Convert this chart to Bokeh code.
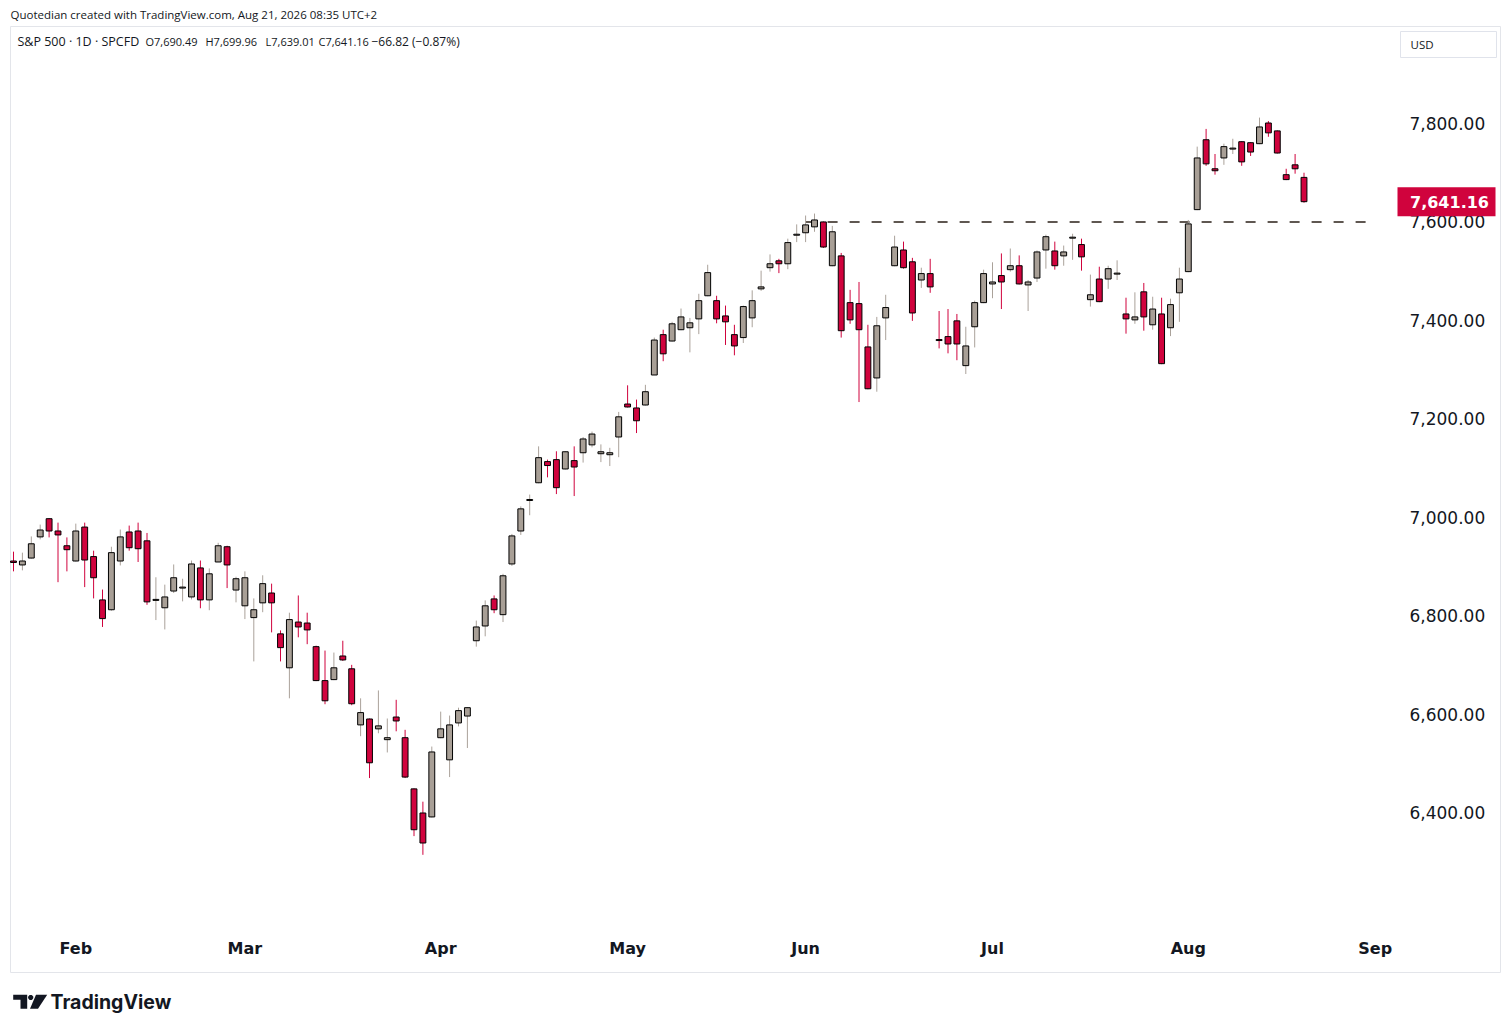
import math
import pandas as pd
from bokeh.plotting import figure
from bokeh.models import ColumnDataSource, Range1d
from bokeh.core.properties import value
from bokeh.embed import file_html
from bokeh.resources import INLINE

# ------------------------------------------------------------------ data
first_day = "2026-01-22"
last_day = "2026-08-20"
market_holidays = ["2026-02-16", "2026-04-03", "2026-05-25", "2026-06-19", "2026-07-03"]

opens = [
    6911, 6903, 6917, 6960, 6997, 6972, 6942, 6911, 6980, 6920,
    6832, 6812, 6911, 6970, 6972, 6952, 6831, 6816, 6850, 6856,
    6838, 6897, 6832, 6909, 6940, 6852, 6820, 6796, 6826, 6846,
    6763, 6694, 6787, 6785, 6737, 6668, 6670, 6718, 6692, 6578,
    6590, 6570, 6548, 6594, 6552, 6448, 6399, 6391, 6552, 6507,
    6582, 6596, 6749, 6779, 6834, 6802, 6905, 6972, 7034, 7070,
    7113, 7117, 7098, 7115, 7131, 7147, 7129, 7127, 7163, 7230,
    7222, 7228, 7289, 7371, 7358, 7381, 7385, 7403, 7450, 7440,
    7409, 7371, 7365, 7405, 7464, 7507, 7521, 7515, 7573, 7578,
    7590, 7600, 7511, 7531, 7436, 7434, 7346, 7283, 7405, 7511,
    7543, 7519, 7482, 7495, 7361, 7367, 7399, 7308, 7387, 7436,
    7474, 7491, 7503, 7511, 7472, 7486, 7543, 7541, 7531, 7567,
    7554, 7442, 7484, 7484, 7494, 7413, 7401, 7458, 7391, 7413,
    7385, 7456, 7499, 7625, 7767, 7708, 7730, 7748, 7763, 7761,
    7759, 7801, 7785, 7696, 7716, 7690.49,
]
highs = [
    6930, 6928, 6961, 6985, 6998, 6989, 6959, 6987, 6989, 6932,
    6853, 6940, 6975, 6983, 6989, 6968, 6878, 6863, 6904, 6875,
    6912, 6912, 6896, 6948, 6942, 6879, 6890, 6835, 6882, 6865,
    6770, 6806, 6841, 6806, 6739, 6729, 6725, 6749, 6700, 6632,
    6591, 6648, 6591, 6629, 6568, 6449, 6422, 6534, 6605, 6597,
    6613, 6614, 6790, 6831, 6841, 6885, 6966, 7022, 7046, 7144,
    7117, 7134, 7134, 7144, 7163, 7174, 7148, 7141, 7214, 7268,
    7239, 7269, 7365, 7381, 7397, 7424, 7405, 7454, 7513, 7450,
    7430, 7391, 7430, 7461, 7501, 7534, 7525, 7566, 7595, 7613,
    7617, 7601, 7592, 7537, 7462, 7478, 7391, 7407, 7452, 7572,
    7560, 7527, 7507, 7525, 7419, 7423, 7413, 7387, 7440, 7503,
    7518, 7536, 7546, 7532, 7482, 7542, 7574, 7560, 7552, 7576,
    7566, 7493, 7509, 7511, 7522, 7446, 7457, 7476, 7448, 7446,
    7444, 7507, 7604, 7753, 7789, 7738, 7759, 7769, 7764, 7762,
    7812, 7805, 7786, 7708, 7738, 7699.96,
]
lows = [
    6890, 6892, 6916, 6955, 6959, 6868, 6890, 6910, 6858, 6835,
    6777, 6810, 6902, 6932, 6909, 6822, 6791, 6772, 6846, 6829,
    6833, 6815, 6811, 6909, 6856, 6827, 6793, 6707, 6807, 6766,
    6707, 6632, 6756, 6742, 6667, 6620, 6669, 6708, 6618, 6555,
    6470, 6561, 6522, 6565, 6470, 6352, 6314, 6390, 6551, 6472,
    6575, 6531, 6737, 6758, 6805, 6787, 6901, 6964, 7004, 7069,
    7081, 7047, 7097, 7043, 7111, 7142, 7112, 7104, 7122, 7223,
    7171, 7227, 7289, 7317, 7357, 7380, 7335, 7372, 7449, 7394,
    7350, 7329, 7354, 7386, 7460, 7499, 7496, 7504, 7559, 7559,
    7580, 7547, 7510, 7365, 7393, 7234, 7260, 7255, 7360, 7510,
    7505, 7399, 7466, 7456, 7343, 7333, 7319, 7291, 7345, 7435,
    7445, 7423, 7499, 7473, 7419, 7478, 7505, 7503, 7511, 7523,
    7501, 7428, 7437, 7464, 7482, 7373, 7393, 7379, 7381, 7311,
    7368, 7397, 7498, 7624, 7714, 7696, 7716, 7738, 7714, 7734,
    7758, 7773, 7739, 7685, 7698, 7639.01,
]
closes = [
    6908, 6911, 6946, 6974, 6972, 6964, 6934, 6972, 6913, 6877,
    6794, 6928, 6960, 6938, 6936, 6828, 6833, 6838, 6877, 6858,
    6905, 6832, 6885, 6942, 6903, 6875, 6877, 6812, 6865, 6826,
    6735, 6792, 6777, 6771, 6668, 6627, 6694, 6710, 6621, 6603,
    6501, 6576, 6552, 6586, 6472, 6365, 6338, 6523, 6570, 6578,
    6607, 6613, 6777, 6820, 6812, 6881, 6962, 7017, 7036, 7121,
    7105, 7060, 7133, 7102, 7159, 7169, 7133, 7131, 7204, 7224,
    7196, 7255, 7360, 7332, 7393, 7407, 7395, 7440, 7497, 7403,
    7397, 7348, 7428, 7440, 7468, 7515, 7515, 7558, 7575, 7594,
    7604, 7549, 7580, 7379, 7401, 7381, 7261, 7389, 7426, 7549,
    7507, 7415, 7495, 7468, 7359, 7352, 7352, 7348, 7436, 7495,
    7478, 7478, 7511, 7474, 7478, 7539, 7570, 7511, 7539, 7569,
    7529, 7452, 7438, 7505, 7496, 7403, 7407, 7407, 7423, 7312,
    7432, 7484, 7596, 7730, 7718, 7704, 7753, 7750, 7722, 7742,
    7793, 7781, 7740, 7686, 7707.98, 7641.16,
]

month_labels = ["Feb", "Mar", "Apr", "May", "Jun", "Jul", "Aug", "Sep"]
month_numbers = [2, 3, 4, 5, 6, 7, 8, 9]
price_ticks = [6400, 6600, 6800, 7000, 7200, 7400, 7600, 7800]

resistance_level = 7600
resistance_from = "2026-06-01"
resistance_to = "2026-08-31"

symbol_text = "S&P 500 · 1D · SPCFD"
credit_text = "Quotedian created with TradingView.com, Aug 21, 2026 08:35 UTC+2"
currency_text = "USD"
brand_text = "TradingView"

# ------------------------------------------------------------------ calendar
hol = set(pd.to_datetime(market_holidays))
dates = [d for d in pd.bdate_range(first_day, last_day) if d not in hol]
future = [d for d in pd.bdate_range("2026-08-21", "2026-09-30") if d not in hol]
calendar = dates + future

month_ticks = [next(i for i, d in enumerate(calendar) if d.month == m) for m in month_numbers]

def cal_index(s):
    t = pd.Timestamp(s)
    return next(i for i, d in enumerate(calendar) if d == t)

n = len(opens)
xs = list(range(n))
up = [c >= o for o, c in zip(opens, closes)]
UP_FILL, DN_FILL = "#a89f96", "#d0033d"
UP_WICK, DN_WICK = "#aaa29a", "#d0033d"

src = ColumnDataSource(dict(
    x=xs, open=opens, high=highs, low=lows, close=closes,
    top=[max(o, c) for o, c in zip(opens, closes)],
    bottom=[min(o, c) for o, c in zip(opens, closes)],
    fill=[UP_FILL if u else DN_FILL for u in up],
    wick=[UP_WICK if u else DN_WICK for u in up],
))

# ------------------------------------------------------------------ layout helpers
# page-pixel -> data helpers (used only to place decorations / labels)
PX_X0, PX_STEP = 13.0, 8.9            # bar 0 centre, bar spacing
PX_Y_TOP_TICK, PX_PER_PT = 123.0, 689.0 / 1400.0

def xd(px):
    return (px - PX_X0) / PX_STEP

def yd(py):
    return 7800 - (py - PX_Y_TOP_TICK) / PX_PER_PT

W, H = 1510, 1032
FONT = "DejaVu Sans"
UI_FONT = "Open Sans"
TXT = "#131722"

p = figure(width=W, height=H,
           x_range=Range1d(xd(0), xd(W)),
           y_range=Range1d(yd(H), yd(0)),
           x_axis_location=None, y_axis_location=None,
           output_backend="svg", toolbar_location=None, min_border=0)
p.background_fill_color = "white"
p.border_fill_color = "white"
p.outline_line_color = None
p.grid.visible = False

# chart frame
p.quad(left=[xd(10)], right=[xd(1500)], top=[yd(26)], bottom=[yd(972)],
       fill_alpha=0, line_color="#e3e5ea", line_width=1)

# resistance line
p.segment(x0=[cal_index(resistance_from)], x1=[cal_index(resistance_to)],
          y0=[resistance_level], y1=[resistance_level],
          line_color="#5f5751", line_width=2, line_dash="10 12")

# candles
p.segment(x0="x", y0="low", x1="x", y1="high", line_color="wick", line_width=1, source=src)
p.vbar(x="x", width=0.66, top="top", bottom="bottom", fill_color="fill",
       line_color="#000000", line_width=1, source=src)

# price scale labels
p.text(x=[xd(1409)] * len(price_ticks), y=price_ticks,
       text=[f"{v:,.2f}" for v in price_ticks],
       text_font=value(FONT), text_font_size="17px", text_color=TXT,
       text_align="left", text_baseline="middle")

# time scale labels
p.text(x=month_ticks, y=[yd(948)] * len(month_ticks), text=month_labels,
       text_font=value(FONT), text_font_size="16px", text_font_style="bold",
       text_color=TXT, text_align="center", text_baseline="middle")

# last price tag
tag_half = 14.5 / PX_PER_PT
p.quad(left=[xd(1397)], right=[xd(1495)], top=[closes[-1] + tag_half],
       bottom=[closes[-1] - tag_half], fill_color=DN_FILL, line_color=None)
p.text(x=[xd(1449)], y=[closes[-1]], text=[f"{closes[-1]:,.2f}"],
       text_font=value(FONT), text_font_size="16px", text_font_style="bold",
       text_color="white", text_align="center", text_baseline="middle")

# credit line and legend
p.text(x=[xd(10)], y=[yd(14)], text=[credit_text], text_font=value(UI_FONT),
       text_font_size="11.5px", text_color=TXT, text_baseline="middle")
p.text(x=[xd(17)], y=[yd(41)], text=[symbol_text], text_font=value(UI_FONT),
       text_font_size="12.5px", text_color=TXT, text_baseline="middle")
chg = closes[-1] - closes[-2]
pct = chg / closes[-2] * 100
legend_texts = [
    f"O{opens[-1]:,.2f}",
    f"H{highs[-1]:,.2f}",
    f"L{lows[-1]:,.2f}",
    f"C{closes[-1]:,.2f}",
    f"{chg:+.2f} ({pct:+.2f}%)".replace("-", "\u2212"),
]
legend_px = [145, 205, 265, 318, 371]
legend_sizes = ["11px", "11px", "11px", "11px", "12px"]
p.text(x=[xd(v) for v in legend_px], y=[yd(41)] * len(legend_px), text=legend_texts,
       text_font=value(UI_FONT), text_font_size=legend_sizes, text_color=TXT,
       text_baseline="middle")

# currency box
p.quad(left=[xd(1400)], right=[xd(1496)], top=[yd(31)], bottom=[yd(57)],
       fill_color="white", line_color="#e0e3eb", line_width=1)
p.text(x=[xd(1410)], y=[yd(44)], text=[currency_text], text_font=value(UI_FONT),
       text_font_size="11.5px", text_color=TXT, text_baseline="middle")

# TradingView logo
logo_T = [(12.7, 994.3), (26.7, 994.3), (26.7, 1008.3), (20.0, 1008.3), (20.0, 999.3), (12.7, 999.3)]
logo_slash = [(35.5, 994.3), (46.7, 994.3), (37.5, 1008.3), (29.5, 1008.3)]
logo_dot = [(30.2 + 2.6 * math.cos(k * math.pi / 8), 997.0 + 2.6 * math.sin(k * math.pi / 8))
            for k in range(16)]
polys = [logo_T, logo_slash, logo_dot]
p.patches(xs=[[xd(a) for a, b in poly] for poly in polys],
          ys=[[yd(b) for a, b in poly] for poly in polys],
          fill_color=TXT, line_color=None)
p.text(x=[xd(50)], y=[yd(1001)], text=[brand_text], text_font=value("Inter"),
       text_font_size="19.5px", text_font_style="bold", text_color=TXT,
       text_baseline="middle")

open("out.html", "w").write(file_html(p, INLINE))
